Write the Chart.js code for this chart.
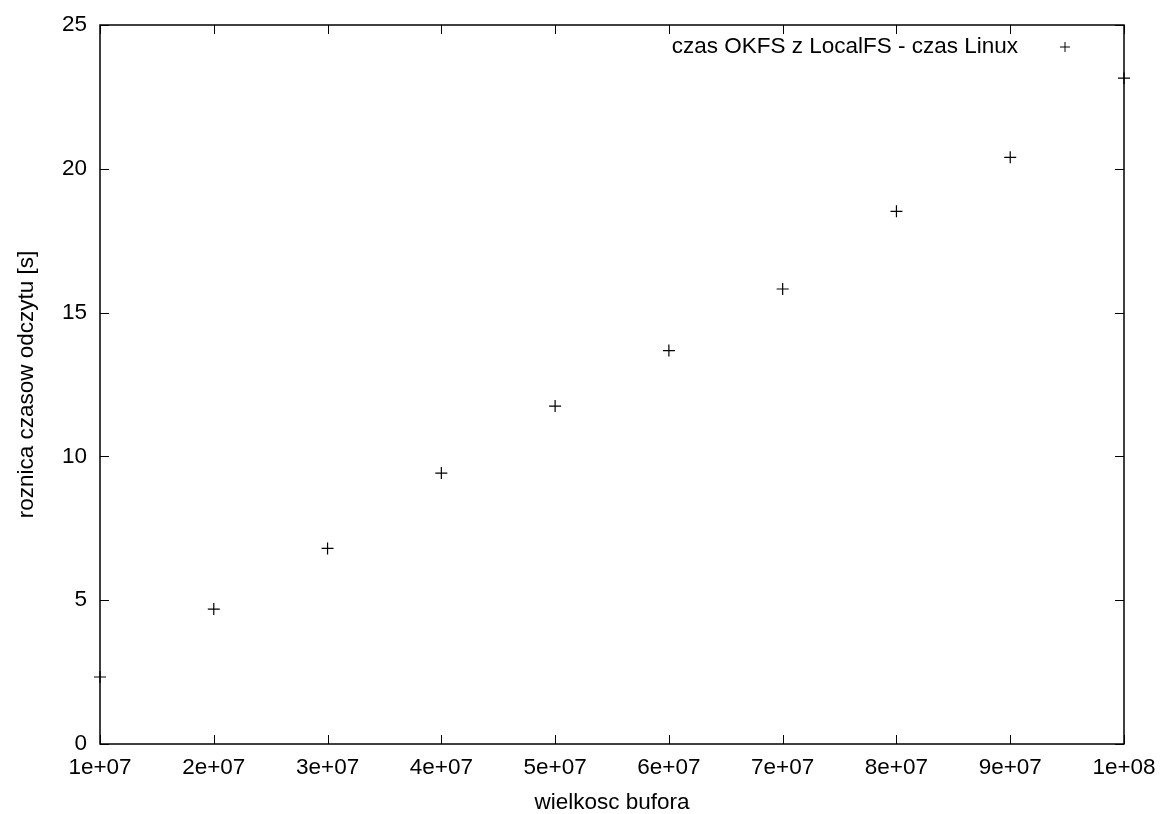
<!DOCTYPE html>
<html>
<head>
<meta charset="utf-8">
<script src="https://cdn.jsdelivr.net/npm/chart.js@4/dist/chart.umd.min.js"></script>
<style>
  html, body { margin: 0; padding: 0; background: #fff; }
  #wrap { width: 1163px; height: 814px; }
</style>
</head>
<body>
<div id="wrap"><canvas id="chart" width="1163" height="814"></canvas></div>
<script>
// buffer sizes and read-time differences
const bufferSizes = [1e7, 2e7, 3e7, 4e7, 5e7, 6e7, 7e7, 8e7, 9e7, 1e8];
const timeDiff = [2.33, 4.69, 6.80, 9.42, 11.75, 13.68, 15.82, 18.52, 20.40, 23.15];
const seriesLabel = 'czas OKFS z LocalFS - czas Linux';
const xTitle = 'wielkosc bufora';
const yTitle = 'roznica czasow odczytu [s]';

const FONT = 'Liberation Sans, Arial, sans-serif';
const FSIZE = 22.5;

function fmtExp(v) {
    return v.toExponential(0).replace(/e([+-])(\d)$/, 'e$10$2');
}

// gnuplot style: frame + inward ticks on all four sides, legend top-right
const gnuplotFrame = {
    id: 'gnuplotFrame',
    afterDraw(chart) {
        const ctx = chart.ctx;
        const a = chart.chartArea;
        const xs = chart.scales.x, ys = chart.scales.y;
        ctx.save();
        ctx.strokeStyle = '#000';
        ctx.lineWidth = 1.5;
        ctx.strokeRect(a.left, a.top, a.right - a.left, a.bottom - a.top);
        ctx.lineWidth = 1;
        ctx.beginPath();
        const tl = 9;
        xs.ticks.forEach(t => {
            const px = Math.round(xs.getPixelForValue(t.value)) + 0.5;
            ctx.moveTo(px, a.bottom); ctx.lineTo(px, a.bottom - tl);
            ctx.moveTo(px, a.top); ctx.lineTo(px, a.top + tl);
        });
        ys.ticks.forEach(t => {
            const py = Math.round(ys.getPixelForValue(t.value)) + 0.5;
            ctx.moveTo(a.left, py); ctx.lineTo(a.left + tl, py);
            ctx.moveTo(a.right, py); ctx.lineTo(a.right - tl, py);
        });
        ctx.stroke();

        // legend
        ctx.font = FSIZE + 'px ' + FONT;
        ctx.fillStyle = '#000';
        ctx.textAlign = 'right';
        ctx.textBaseline = 'middle';
        ctx.fillText(chart.data.datasets[0].label, a.right - 106, a.top + 22);
        const mx = a.right - 59, my = a.top + 22;
        ctx.beginPath();
        ctx.moveTo(mx - 5, my); ctx.lineTo(mx + 5, my);
        ctx.moveTo(mx, my - 5); ctx.lineTo(mx, my + 5);
        ctx.stroke();
        ctx.restore();
    }
};

new Chart(document.getElementById('chart'), {
    type: 'scatter',
    data: {
        datasets: [{
            label: seriesLabel,
            data: bufferSizes.map((x, i) => ({x: x, y: timeDiff[i]})),
            pointStyle: 'cross',
            pointRadius: 6,
            pointHoverRadius: 6,
            borderColor: '#000',
            backgroundColor: '#000',
            borderWidth: 1.2,
            clip: false
        }]
    },
    plugins: [gnuplotFrame],
    options: {
        responsive: false,
        animation: false,
        events: [],
        layout: { padding: { top: 25, right: 39, left: 0, bottom: 0 } },
        plugins: { legend: { display: false }, tooltip: { enabled: false } },
        scales: {
            x: {
                type: 'linear',
                min: 1e7, max: 1e8,
                afterFit(s) { s.height = 70; s.paddingLeft = 0; s.paddingRight = 0; },
                border: { display: false },
                grid: { display: false, drawTicks: false },
                ticks: {
                    stepSize: 1e7,
                    color: '#000',
                    padding: 10,
                    font: { family: FONT, size: FSIZE },
                    maxRotation: 0,
                    callback: v => fmtExp(v)
                },
                title: {
                    display: true, text: xTitle, color: '#000',
                    font: { family: FONT, size: FSIZE, lineHeight: 1 },
                    padding: { top: 8, bottom: 0 }
                }
            },
            y: {
                min: 0, max: 25,
                afterFit(s) { s.width = 100; s.paddingTop = 0; s.paddingBottom = 0; },
                border: { display: false },
                grid: { display: false, drawTicks: false },
                ticks: {
                    stepSize: 5,
                    color: '#000',
                    padding: 13,
                    font: { family: FONT, size: FSIZE }
                },
                title: {
                    display: true, text: yTitle, color: '#000',
                    font: { family: FONT, size: FSIZE },
                    padding: { top: 13, bottom: 0 }
                }
            }
        }
    }
});
</script>
</body>
</html>
